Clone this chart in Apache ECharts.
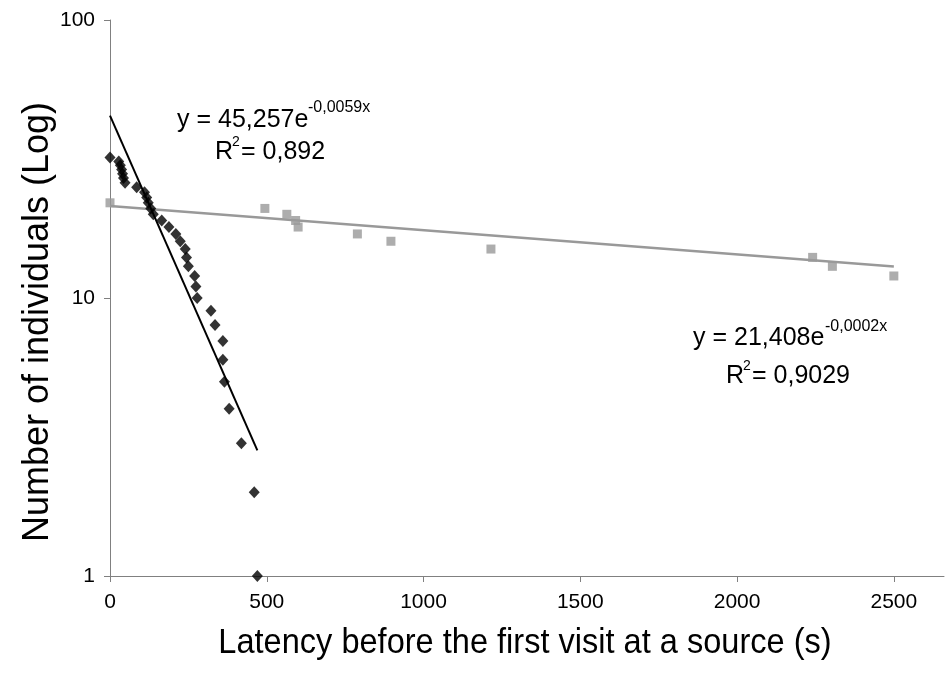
<!DOCTYPE html>
<html>
<head>
<meta charset="utf-8">
<script src="https://cdn.jsdelivr.net/npm/echarts@6/dist/echarts.min.js"></script>
<style>
html,body{margin:0;padding:0;background:#fff;}
#chart{width:946px;height:673px;}
</style>
</head>
<body>
<div id="chart"></div>
<script>
// Black diamonds: latency (s) vs number of individuals
const blackX = [0, 28, 33, 37, 40, 43, 48, 85, 110, 117, 122, 130, 138, 165, 188, 210, 224, 240, 244, 250, 270, 274, 278, 322, 335, 360, 360, 365, 380, 419, 460, 470];
const blackY = [32, 31, 30, 29, 28, 27, 26, 25, 24, 23, 22, 21, 20, 19, 18, 17, 16, 15, 14, 13, 12, 11, 10, 9, 8, 7, 6, 5, 4, 3, 2, 1];
// Grey squares
const greyX = [0, 494, 564, 592, 600, 789, 896, 1215, 2241, 2304, 2500];
const greyY = [22, 21, 20, 19, 18, 17, 16, 15, 14, 13, 12];
// Trend line end points
const blackTrendX = [0, 470];
const blackTrendY = [45.26, 2.83];
const greyTrendX = [0, 2500];
const greyTrendY = [21.41, 12.98];
// Tick labels
const xTicks = [0, 500, 1000, 1500, 2000, 2500];
const yTicks = [1, 10, 100];
const xTitle = 'Latency before the first visit at a source (s)';
const yTitle = 'Number of individuals (Log)';

const zip = (a, b) => a.map((v, i) => [v, b[i]]);
const FONT = 'Liberation Sans, Arial, sans-serif';

const chart = echarts.init(document.getElementById('chart'), null, {renderer: 'canvas'});

function txt(x, y, text, size, opts) {
  const o = Object.assign({align: 'left', rotation: 0, scaleX: 1}, opts || {});
  return {type: 'text', x: x, y: y, z: 100, rotation: o.rotation, scaleX: o.scaleX,
    style: {text: text, fontSize: size, fontFamily: FONT, fill: '#000', align: o.align, verticalAlign: 'middle'}};
}

chart.setOption({
  animation: false,
  backgroundColor: '#fff',
  grid: {left: 110, right: 2, top: 20, bottom: 97, containLabel: false},
  xAxis: {
    type: 'value', min: 0, max: 2660, interval: 500,
    axisLine: {lineStyle: {color: '#808080', width: 1}},
    axisTick: {show: true, length: 6, lineStyle: {color: '#808080'}, customValues: xTicks},
    axisLabel: {fontSize: 21, fontFamily: FONT, color: '#000', margin: 16, customValues: xTicks,
      formatter: v => String(v)},
    splitLine: {show: false}
  },
  yAxis: {
    type: 'log', logBase: 10, min: 1, max: 100,
    axisLine: {lineStyle: {color: '#808080', width: 1}},
    axisTick: {show: true, length: 6, lineStyle: {color: '#808080'}, customValues: yTicks},
    axisLabel: {fontSize: 21, fontFamily: FONT, color: '#000', margin: 15, customValues: yTicks,
      formatter: v => String(Math.round(v))},
    splitLine: {show: false}
  },
  series: [
    {type: 'scatter', data: zip(greyX, greyY), symbol: 'rect', symbolSize: 9,
      itemStyle: {color: '#999999'}, z: 2},
    {type: 'line', data: zip(greyTrendX, greyTrendY), showSymbol: false, symbol: 'none',
      lineStyle: {color: '#999999', width: 2.5}, z: 3},
    {type: 'scatter', data: zip(blackX, blackY), symbol: 'diamond', symbolSize: [11, 12],
      itemStyle: {color: '#000'}, z: 4},
    {type: 'line', data: zip(blackTrendX, blackTrendY), showSymbol: false, symbol: 'none',
      lineStyle: {color: '#000', width: 2}, z: 5}
  ],
  graphic: [
    txt(525, 643, xTitle, 35, {align: 'center', scaleX: 0.93}),
    txt(38, 322, yTitle, 36, {align: 'center', rotation: Math.PI / 2}),
    txt(177, 120, 'y = 45,257e', 25),
    txt(308, 108, '-0,0059x', 16),
    txt(215, 152, 'R', 25),
    txt(232, 142, '2', 14),
    txt(241, 152, '= 0,892', 25),
    txt(693, 338, 'y = 21,408e', 25),
    txt(825, 327, '-0,0002x', 16),
    txt(726, 376, 'R', 25),
    txt(743, 366, '2', 14),
    txt(752, 376, '= 0,9029', 25)
  ]
});
</script>
</body>
</html>
